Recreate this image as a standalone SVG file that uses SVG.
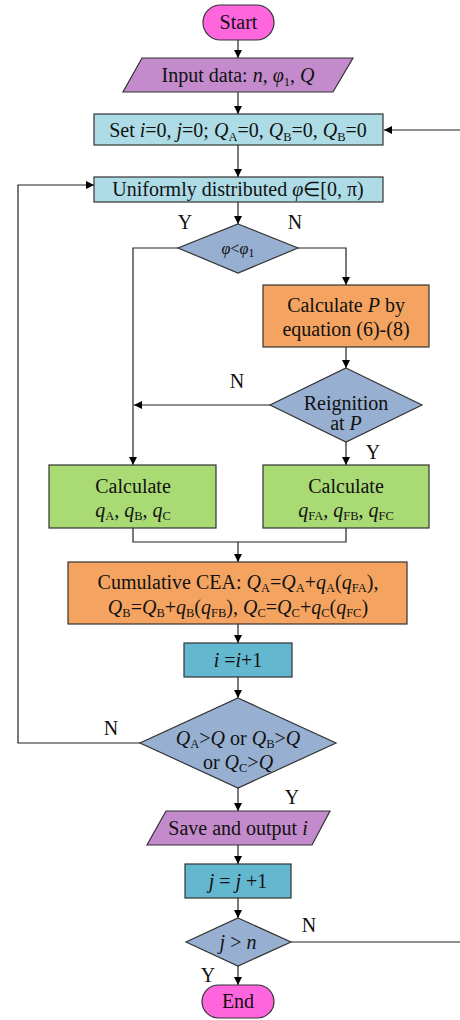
<svg xmlns="http://www.w3.org/2000/svg" width="460" height="1020" viewBox="0 0 460 1020" font-family="'Liberation Serif', 'Times New Roman', serif">
<defs>
<marker id="ah" viewBox="0 0 10 10" refX="10" refY="5" markerWidth="8" markerHeight="9" markerUnits="userSpaceOnUse" orient="auto">
<path d="M0,0 L10,5 L0,10 z" fill="#000"/>
</marker>
<style>
text{font-family:"Liberation Serif","Times New Roman",serif}
.n{stroke:#333;stroke-width:1.2}
.t{font-size:20px;fill:#111;text-anchor:middle}
.i{font-style:italic}
.s{font-size:12.5px;font-style:normal}
.c{fill:none;stroke:#222;stroke-width:1.2}
.a{fill:none;stroke:#222;stroke-width:1.2;marker-end:url(#ah)}
.l{font-size:20px;fill:#111;text-anchor:middle}
</style>
</defs>
<rect width="460" height="1020" fill="#fff"/>
<g id="connectors">
<path class="a" d="M238,40 V58"/>
<path class="a" d="M238,92 V114"/>
<path class="a" d="M460,130 H384"/>
<path class="a" d="M238,145 V177"/>
<path class="a" d="M140,743 H18 V185 H94"/>
<path class="a" d="M238,202 V224"/>
<path class="a" d="M178,248 H133 V465"/>
<path class="a" d="M298,248 H346 V285"/>
<path class="a" d="M346,347 V368"/>
<path class="a" d="M270,405 H134"/>
<path class="a" d="M346,442 V465"/>
<path class="c" d="M133,528 V542 H346 V528"/>
<path class="a" d="M238,542 V562"/>
<path class="a" d="M238,624 V643"/>
<path class="a" d="M238,677 V698"/>
<path class="a" d="M238,788 V811"/>
<path class="a" d="M238,845 V864"/>
<path class="a" d="M238,898 V918"/>
<path class="c" d="M291,942 H460"/>
<path class="a" d="M238,966 V985"/>
<text class="l" x="185" y="229">Y</text>
<text class="l" x="295" y="229">N</text>
<text class="l" x="237" y="388">N</text>
<text class="l" x="373" y="459">Y</text>
<text class="l" x="111" y="735">N</text>
<text class="l" x="292" y="804">Y</text>
<text class="l" x="309" y="932">N</text>
<text class="l" x="208" y="982">Y</text>
</g>
<g id="start">
<rect class="n" x="203" y="5" width="71" height="35" rx="17.5" fill="#FF66DD"/>
<text class="t" x="238.5" y="29">Start</text>
</g>
<g id="input">
<polygon class="n" points="142,58 353,58 333,92 123,92" fill="#C38BCB"/>
<text class="t" x="238" y="82">Input data: <tspan class="i">n</tspan>, <tspan class="i">φ</tspan><tspan class="s" dy="4">1</tspan><tspan dy="-4">, </tspan><tspan class="i">Q</tspan></text>
</g>
<g id="init">
<rect class="n" x="94" y="114" width="289" height="31" fill="#AEDCE6"/>
<text class="t" x="238" y="137">Set <tspan class="i">i</tspan>=0, <tspan class="i">j</tspan>=0; <tspan class="i">Q</tspan><tspan class="s" dy="4">A</tspan><tspan dy="-4">=0, </tspan><tspan class="i">Q</tspan><tspan class="s" dy="4">B</tspan><tspan dy="-4">=0, </tspan><tspan class="i">Q</tspan><tspan class="s" dy="4">B</tspan><tspan dy="-4">=0</tspan></text>
</g>
<g id="uniform">
<rect class="n" x="94" y="177" width="289" height="25" fill="#AEDCE6"/>
<text class="t" x="238" y="196">Uniformly distributed <tspan class="i">φ</tspan>∈[0, π)</text>
</g>
<g id="d1">
<polygon class="n" points="238,224 298,248 238,273 178,248" fill="#97AFD0"/>
<text class="t" x="238" y="254" style="font-size:16px"><tspan class="i">φ</tspan>&lt;<tspan class="i">φ</tspan><tspan class="s" dy="3">1</tspan></text>
</g>
<g id="calcP">
<rect class="n" x="263" y="285" width="166" height="62" fill="#F4A460"/>
<text class="t" x="346" y="312">Calculate <tspan class="i">P</tspan> by</text>
<text class="t" x="346" y="336">equation (6)-(8)</text>
</g>
<g id="d2">
<polygon class="n" points="346,368 422,405 346,442 270,405" fill="#97AFD0"/>
<text class="t" x="346" y="410">Reignition</text>
<text class="t" x="346" y="430">at  <tspan class="i">P</tspan></text>
</g>
<g id="calcq">
<rect class="n" x="49" y="465" width="167" height="63" fill="#A9DA74"/>
<text class="t" x="133" y="493">Calculate</text>
<text class="t" x="133" y="517"><tspan class="i">q</tspan><tspan class="s" dy="3">A</tspan><tspan dy="-3">, </tspan><tspan class="i">q</tspan><tspan class="s" dy="3">B</tspan><tspan dy="-3">, </tspan><tspan class="i">q</tspan><tspan class="s" dy="3">C</tspan></text>
</g>
<g id="calcqf">
<rect class="n" x="263" y="465" width="166" height="63" fill="#A9DA74"/>
<text class="t" x="346" y="493">Calculate</text>
<text class="t" x="346" y="517"><tspan class="i">q</tspan><tspan class="s" dy="3">FA</tspan><tspan dy="-3">, </tspan><tspan class="i">q</tspan><tspan class="s" dy="3">FB</tspan><tspan dy="-3">, </tspan><tspan class="i">q</tspan><tspan class="s" dy="3">FC</tspan></text>
</g>
<g id="cumul">
<rect class="n" x="68" y="562" width="339" height="62" fill="#F4A460"/>
<text class="t" x="238" y="589">Cumulative CEA: <tspan class="i">Q</tspan><tspan class="s" dy="3">A</tspan><tspan dy="-3">=</tspan><tspan class="i">Q</tspan><tspan class="s" dy="3">A</tspan><tspan dy="-3">+</tspan><tspan class="i">q</tspan><tspan class="s" dy="3">A</tspan><tspan dy="-3">(</tspan><tspan class="i">q</tspan><tspan class="s" dy="3">FA</tspan><tspan dy="-3">),</tspan></text>
<text class="t" x="238" y="614"><tspan class="i">Q</tspan><tspan class="s" dy="3">B</tspan><tspan dy="-3">=</tspan><tspan class="i">Q</tspan><tspan class="s" dy="3">B</tspan><tspan dy="-3">+</tspan><tspan class="i">q</tspan><tspan class="s" dy="3">B</tspan><tspan dy="-3">(</tspan><tspan class="i">q</tspan><tspan class="s" dy="3">FB</tspan><tspan dy="-3">), </tspan><tspan class="i">Q</tspan><tspan class="s" dy="3">C</tspan><tspan dy="-3">=</tspan><tspan class="i">Q</tspan><tspan class="s" dy="3">C</tspan><tspan dy="-3">+</tspan><tspan class="i">q</tspan><tspan class="s" dy="3">C</tspan><tspan dy="-3">(</tspan><tspan class="i">q</tspan><tspan class="s" dy="3">FC</tspan><tspan dy="-3">)</tspan></text>
</g>
<g id="inc_i">
<rect class="n" x="184" y="643" width="108" height="34" fill="#63B7CF"/>
<text class="t" x="238" y="667"><tspan class="i">i</tspan> =<tspan class="i">i</tspan>+1</text>
</g>
<g id="d3">
<polygon class="n" points="238,698 336,743 238,788 140,743" fill="#97AFD0"/>
<text class="t" x="238" y="745"><tspan class="i">Q</tspan><tspan class="s" dy="3">A</tspan><tspan dy="-3">&gt;</tspan><tspan class="i">Q</tspan> or <tspan class="i">Q</tspan><tspan class="s" dy="3">B</tspan><tspan dy="-3">&gt;</tspan><tspan class="i">Q</tspan></text>
<text class="t" x="238" y="769">or <tspan class="i">Q</tspan><tspan class="s" dy="3">C</tspan><tspan dy="-3">&gt;</tspan><tspan class="i">Q</tspan></text>
</g>
<g id="save">
<polygon class="n" points="166,811 330,811 312,845 147,845" fill="#C38BCB"/>
<text class="t" x="238" y="835">Save and output <tspan class="i">i</tspan></text>
</g>
<g id="inc_j">
<rect class="n" x="185" y="864" width="106" height="34" fill="#63B7CF"/>
<text class="t" x="238" y="888"><tspan class="i">j</tspan> = <tspan class="i">j</tspan> +1</text>
</g>
<g id="d4">
<polygon class="n" points="238,918 291,942 238,966 186,942" fill="#97AFD0"/>
<text class="t" x="238" y="949"><tspan class="i">j</tspan> &gt; <tspan class="i">n</tspan></text>
</g>
<g id="end">
<rect class="n" x="202" y="985" width="72" height="33" rx="16.5" fill="#FF66DD"/>
<text class="t" x="238" y="1008">End</text>
</g>
</svg>
